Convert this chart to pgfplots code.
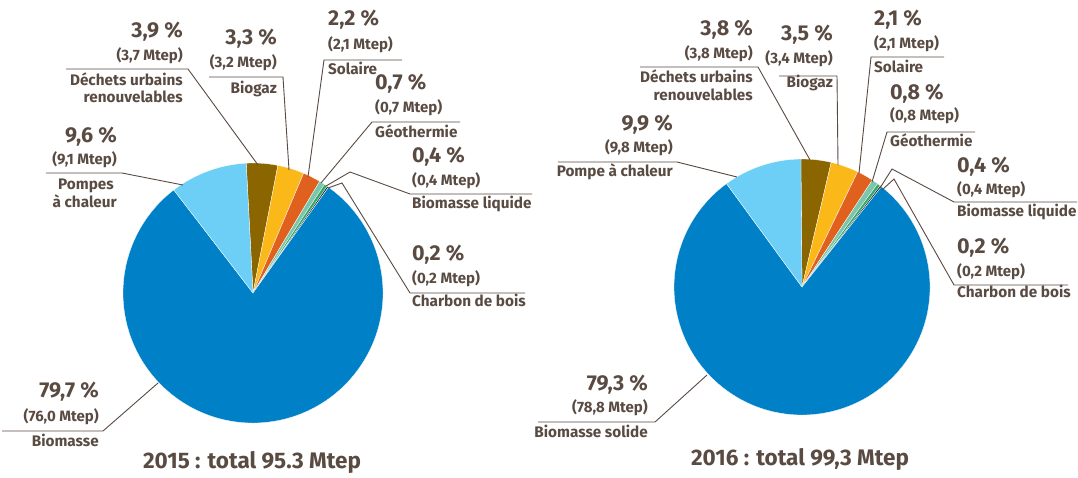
\documentclass[border=0pt]{standalone}
\usepackage{pgfplots}
\pgfplotsset{compat=1.18}
\usepackage{pgfplotstable}
\usepackage{fontspec}
\setmainfont{Fira Sans}
\definecolor{txt}{HTML}{594A42}
\definecolor{cBio}{HTML}{0080C6}
\definecolor{cPac}{HTML}{6DCFF6}
\definecolor{cDec}{HTML}{8A6500}
\definecolor{cGaz}{HTML}{FBB819}
\definecolor{cSol}{HTML}{E0601E}
\definecolor{cGeo}{HTML}{7DC6AE}
\definecolor{cLiq}{HTML}{2EA86B}
\definecolor{cCha}{HTML}{1F1F1F}

\pgfplotstableread{
name pct col
dechets 3.9 cDec
biogaz 3.3 cGaz
solaire 2.2 cSol
geothermie 0.7 cGeo
liquide 0.4 cLiq
charbon 0.2 cCha
biomasse 79.7 cBio
pac 9.6 cPac
}\tabA
\pgfplotstableread{
name pct col
dechets 3.8 cDec
biogaz 3.5 cGaz
solaire 2.1 cSol
geothermie 0.8 cGeo
liquide 0.4 cLiq
charbon 0.2 cCha
biomasse 79.3 cBio
pac 9.9 cPac
}\tabB

\def\piecmds{}
% #1 table, #2 cx, #3 cy (pixel, downwards), #4 radius, #5 start angle
\newcommand\buildpie[5]{%
  \def\curang{#5}%
  \pgfplotsforeachungrouped \i in {0,...,7}{%
    \pgfplotstablegetelem{\i}{pct}\of{#1}\let\v\pgfplotsretval
    \pgfplotstablegetelem{\i}{col}\of{#1}\let\c\pgfplotsretval
    \pgfmathsetmacro\endang{\curang-3.6*\v}%
    \pgfmathsetmacro\sx{#2+#4*cos(\curang)}%
    \pgfmathsetmacro\sy{#3-#4*sin(\curang)}%
    \edef\piecmds{\unexpanded\expandafter{\piecmds}%
      \noexpand\fill[\c,draw=white,line width=0.3pt] (axis cs:#2,#3) -- (axis cs:\sx,\sy)
      arc[start angle=\curang, end angle=\endang, radius=#4pt] -- cycle;}%
    \let\curang\endang
  }%
}
\buildpie{\tabA}{253}{293}{130}{93}
\buildpie{\tabB}{802}{287}{128}{90.5}

\begin{document}
\begin{tikzpicture}[
  pct/.style={font=\bfseries\fontsize{21.5}{22}\selectfont,text=txt,inner sep=0pt},
  mt/.style={font=\bfseries\fontsize{15}{16}\selectfont,text=txt,inner sep=0pt},
  lab/.style={font=\bfseries\fontsize{15.3}{16}\selectfont,text=txt,inner sep=0pt},
  ttl/.style={font=\bfseries\fontsize{22.5}{24}\selectfont,text=txt,inner sep=0pt},
  ld/.style={draw=txt,line width=0.9pt}]
\useasboundingbox (0,0) rectangle (1078pt,477pt);
\clip (0,0) rectangle (1078pt,477pt);
\begin{axis}[at={(0,0)},anchor=south west,scale only axis,
  width=1078pt,height=477pt,xmin=0,xmax=1078,ymin=0,ymax=477,
  y dir=reverse,hide axis,clip=false]
\piecmds
% ---------- 2015 ----------
\node[pct,anchor=mid east] at (axis cs:183,35) {3,9 \%};
\node[mt,anchor=mid east] at (axis cs:183,58) {(3,7 Mtep)};
\draw[ld] (axis cs:66,69) -- (axis cs:188,69) -- (axis cs:258,165);
\node[lab,anchor=mid east] at (axis cs:183,83) {Déchets urbains};
\node[lab,anchor=mid east] at (axis cs:183,100) {renouvelables};

\node[pct,anchor=mid east] at (axis cs:277,42) {3,3 \%};
\node[mt,anchor=mid east] at (axis cs:277,65) {(3,2 Mtep)};
\draw[ld] (axis cs:209,77) -- (axis cs:283,77) -- (axis cs:289,170);
\node[lab,anchor=mid east] at (axis cs:277,91) {Biogaz};

\node[pct,anchor=mid west] at (axis cs:328,23) {2,2 \%};
\node[mt,anchor=mid west] at (axis cs:328,47) {(2,1 Mtep)};
\draw[ld] (axis cs:402,60) -- (axis cs:324,60) -- (axis cs:308,177);
\node[lab,anchor=mid west] at (axis cs:328,72) {Solaire};

\node[pct,anchor=mid west] at (axis cs:375,87) {0,7 \%};
\node[mt,anchor=mid west] at (axis cs:375,110) {(0,7 Mtep)};
\draw[ld] (axis cs:460,122) -- (axis cs:372,122) -- (axis cs:321,183);
\node[lab,anchor=mid west] at (axis cs:375,135) {Géothermie};

\node[pct,anchor=mid west] at (axis cs:412,160) {0,4 \%};
\node[mt,anchor=mid west] at (axis cs:412,183) {(0,4 Mtep)};
\draw[ld] (axis cs:326,186) -- (axis cs:350,172) -- (axis cs:410,194) -- (axis cs:532,194);
\node[lab,anchor=mid west] at (axis cs:412,206) {Biomasse liquide};

\node[pct,anchor=mid west] at (axis cs:412,258) {0,2 \%};
\node[mt,anchor=mid west] at (axis cs:412,281) {(0,2 Mtep)};
\draw[ld] (axis cs:328,188) -- (axis cs:342,183) -- (axis cs:410,293) -- (axis cs:525,293);
\node[lab,anchor=mid west] at (axis cs:412,304) {Charbon de bois};

\node[pct,anchor=mid east] at (axis cs:117,140) {9,6 \%};
\node[mt,anchor=mid east] at (axis cs:117,162) {(9,1 Mtep)};
\draw[ld] (axis cs:46,173) -- (axis cs:122,173) -- (axis cs:183,185);
\node[lab,anchor=mid east] at (axis cs:114,187) {Pompes};
\node[lab,anchor=mid east] at (axis cs:117,205) {à chaleur};

\node[pct,anchor=mid east] at (axis cs:99,395) {79,7 \%};
\node[mt,anchor=mid east] at (axis cs:99,419) {(76,0 Mtep)};
\draw[ld] (axis cs:2,431) -- (axis cs:103,431) -- (axis cs:158,383);
\node[lab,anchor=mid east] at (axis cs:99,444) {Biomasse};

\node[ttl,anchor=mid] at (axis cs:252,466) {2015 : total 95.3 Mtep};

% ---------- 2016 ----------
\node[pct,anchor=mid east] at (axis cs:753,33) {3,8 \%};
\node[mt,anchor=mid east] at (axis cs:753,56) {(3,8 Mtep)};
\draw[ld] (axis cs:640,67) -- (axis cs:758,67) -- (axis cs:810,160);
\node[lab,anchor=mid east] at (axis cs:753,80) {Déchets urbains};
\node[lab,anchor=mid east] at (axis cs:753,98) {renouvelables};

\node[pct,anchor=mid east] at (axis cs:833,38) {3,5 \%};
\node[mt,anchor=mid east] at (axis cs:833,61) {(3,4 Mtep)};
\draw[ld] (axis cs:779,76) -- (axis cs:837,76) -- (axis cs:838,165);
\node[lab,anchor=mid east] at (axis cs:833,85) {Biogaz};

\node[pct,anchor=mid west] at (axis cs:874,23) {2,1 \%};
\node[mt,anchor=mid west] at (axis cs:874,46) {(2,1 Mtep)};
\draw[ld] (axis cs:944,57) -- (axis cs:871,57) -- (axis cs:859,173);
\node[lab,anchor=mid west] at (axis cs:874,70) {Solaire};

\node[pct,anchor=mid west] at (axis cs:890,97) {0,8 \%};
\node[mt,anchor=mid west] at (axis cs:890,118) {(0,8 Mtep)};
\draw[ld] (axis cs:975,132) -- (axis cs:887,132) -- (axis cs:872,182);
\node[lab,anchor=mid west] at (axis cs:890,144) {Géothermie};

\node[pct,anchor=mid west] at (axis cs:957,170) {0,4 \%};
\node[mt,anchor=mid west] at (axis cs:957,192) {(0,4 Mtep)};
\draw[ld] (axis cs:880,188) -- (axis cs:892,169) -- (axis cs:954,202) -- (axis cs:1077,202);
\node[lab,anchor=mid west] at (axis cs:957,214) {Biomasse liquide};

\node[pct,anchor=mid west] at (axis cs:957,251) {0,2 \%};
\node[mt,anchor=mid west] at (axis cs:957,274) {(0,2 Mtep)};
\draw[ld] (axis cs:882,190) -- (axis cs:894,179) -- (axis cs:954,285) -- (axis cs:1068,285);
\node[lab,anchor=mid west] at (axis cs:957,295) {Charbon de bois};

\node[pct,anchor=mid east] at (axis cs:673,128) {9,9 \%};
\node[mt,anchor=mid east] at (axis cs:673,150) {(9,8 Mtep)};
\draw[ld] (axis cs:558,162) -- (axis cs:677,162) -- (axis cs:737,177);
\node[lab,anchor=mid east] at (axis cs:673,174) {Pompe à chaleur};

\node[pct,anchor=mid east] at (axis cs:648,388) {79,3 \%};
\node[mt,anchor=mid east] at (axis cs:648,410) {(78,8 Mtep)};
\draw[ld] (axis cs:538,422) -- (axis cs:655,422) -- (axis cs:707,375);
\node[lab,anchor=mid east] at (axis cs:648,435) {Biomasse solide};

\node[ttl,anchor=mid] at (axis cs:800,463) {2016 : total 99,3 Mtep};
\end{axis}
\end{tikzpicture}
\end{document}
